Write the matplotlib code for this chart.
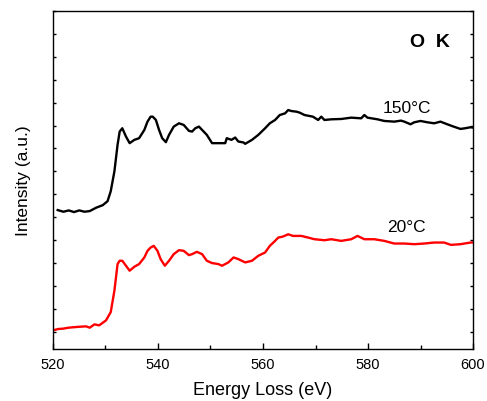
import numpy as np
import matplotlib
matplotlib.use('Agg')
import matplotlib.pyplot as plt

plt.rcParams['font.family'] = ['Liberation Sans', 'DejaVu Sans']

# energy loss (eV) and intensity (a.u., offset)
e_150 = [520.9, 522.0, 523.0, 524.0, 525.0, 526.0, 527.0, 528.2, 529.5, 530.4, 531.0,
         531.7, 532.3, 532.7, 533.2, 533.9, 534.6, 535.5, 536.4, 537.4, 538.0, 538.6,
         539.0, 539.6, 540.2, 540.8, 541.5, 542.1, 543.0, 544.0, 544.9, 545.9, 546.5,
         547.1, 547.8, 548.4, 549.3, 550.3, 551.5, 552.8, 553.1, 554.0, 554.7, 555.3,
         556.3, 556.6, 557.9, 559.1, 560.4, 561.3, 562.3, 563.2, 564.2, 564.8, 565.4,
         566.4, 567.0, 567.9, 569.5, 570.5, 571.1, 571.7, 573.0, 574.9, 576.8, 578.7,
         579.3, 579.9, 581.8, 583.1, 585.0, 586.3, 586.9, 588.1, 588.8, 590.0, 591.3,
         592.6, 593.8, 595.1, 596.3, 597.6, 598.5, 599.5, 600.0]
zy_150 = [637, 642, 638, 643, 638, 642, 640, 630, 622, 610, 580,
          520, 440, 400, 390, 415, 435, 425, 420, 395, 370, 355,
          355, 365, 395, 420, 432, 410, 385, 375, 380, 398, 400,
          390, 385, 395, 410, 435, 435, 435, 420, 425, 418, 430,
          433, 437, 425, 410, 390, 375, 365, 350, 345, 335, 338,
          340, 343, 350, 355, 365, 355, 365, 363, 362, 358, 360,
          350, 358, 363, 368, 370, 367, 370, 378, 372, 368, 372,
          375, 370, 378, 385, 392, 390, 387, 388]

e_20 = [520.0, 521.0, 521.9, 523.0, 524.4, 525.3, 526.3, 527.0, 527.9, 528.8, 530.1,
        531.0, 531.7, 532.3, 532.7, 533.2, 533.9, 534.6, 535.5, 536.4, 537.4, 538.0,
        538.6, 539.2, 539.9, 540.5, 541.3, 542.1, 543.0, 544.0, 544.9, 545.9, 546.5,
        547.4, 548.4, 549.3, 550.3, 551.5, 552.2, 553.4, 554.4, 555.3, 556.6, 557.9,
        559.1, 560.4, 561.3, 562.3, 562.9, 563.8, 564.8, 565.7, 567.3, 568.6, 569.8,
        571.7, 573.0, 574.9, 576.8, 578.0, 579.3, 581.2, 583.1, 585.0, 586.9, 588.8,
        590.7, 592.6, 594.5, 595.8, 597.6, 599.5, 600.0]
zy_20 = [1000, 996, 995, 992, 990, 989, 988, 992, 982, 985, 970,
         945, 880, 800, 790, 790, 805, 820, 808, 800, 780, 760,
         750, 745, 760, 785, 805, 790, 770, 758, 760, 773, 770,
         763, 770, 790, 797, 800, 805, 795, 780, 785, 795, 790,
         775, 765, 745, 730, 720, 717, 710, 715, 715, 720, 725,
         728, 725, 730, 725, 715, 725, 725, 730, 738, 738, 740,
         738, 735, 735, 742, 740, 735, 735]


def to_units(zy):
    py = np.array(zy) / 3.018
    return 15 - (py - 12) / 22.9


fig = plt.figure(figsize=(4.87, 4.02), dpi=100)
ax = fig.add_axes([0.1088, 0.1294, 0.8625, 0.8406])

ax.plot(e_150, to_units(zy_150), color='black', lw=1.7)
ax.plot(e_20, to_units(zy_20), color='red', lw=1.7)

ax.set_xlim(520, 600)
ax.set_ylim(0.24, 15)
ax.set_xticks(np.arange(520, 601, 20))
ax.set_xticks(np.arange(530, 600, 20), minor=True)
ax.set_yticks(np.arange(1, 16, 1))
ax.set_yticklabels([])
ax.tick_params(axis='x', which='major', direction='in', length=4, width=1, labelsize=10.5, pad=6)
ax.tick_params(axis='x', which='minor', direction='in', length=3, width=1)
ax.tick_params(axis='y', direction='in', length=2, width=1, right=True)
for s in ax.spines.values():
    s.set_linewidth(1.0)

ax.set_xlabel('Energy Loss (eV)', fontsize=13, labelpad=7)
ax.set_ylabel('Intensity (a.u.)', fontsize=12.5, labelpad=12)

ax.text(587.4, 10.78, '150\u00b0C', fontsize=12.5, ha='center', va='center')
ax.text(587.4, 5.61, '20\u00b0C', fontsize=12.5, ha='center', va='center')
ax.text(591.8, 13.65, 'O  K', fontsize=14, fontweight='bold', ha='center', va='center')

fig.savefig('out.png', dpi=100)
